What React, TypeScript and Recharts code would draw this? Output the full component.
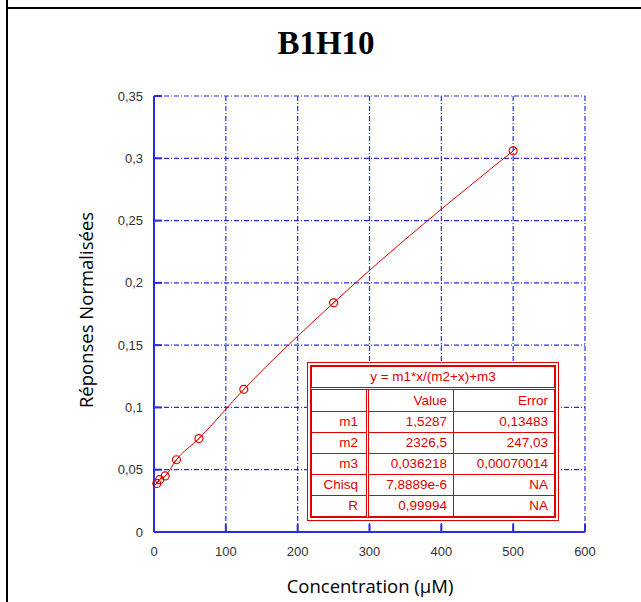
import { ComposedChart, Line, Scatter, XAxis, YAxis, CartesianGrid } from "recharts";

// concentrations (µM) and normalised responses
const CONC = [3.9, 7.8, 15.6, 31.25, 62.5, 125, 250, 500];
const RESP = [0.039, 0.042, 0.045, 0.058, 0.075, 0.1145, 0.184, 0.306];

const X_TICKS = [0, 100, 200, 300, 400, 500, 600];
const Y_TICKS = [0, 0.05, 0.1, 0.15, 0.2, 0.25, 0.3, 0.35];

// fit result box
const FIT_EQUATION = "y = m1*x/(m2+x)+m3";
const FIT_PARAMS = ["m1", "m2", "m3", "Chisq", "R"];
const FIT_VALUES = ["1,5287", "2326,5", "0,036218", "7,8889e-6", "0,99994"];
const FIT_ERRORS = ["0,13483", "247,03", "0,00070014", "NA", "NA"];

const BLUE = "#2c2ce6";
const RED = "#e00000";

const data = CONC.map((x, i) => ({ x, y: RESP[i] }));

const fmt = (v: number) => String(v).replace(".", ",");

const Marker = (props: any) => {
  const { cx, cy } = props;
  if (cx == null || cy == null) return null;
  return (
    <g>
      <circle cx={cx} cy={cy} r={4} fill="none" stroke={RED} strokeWidth={1.2} />
      <line x1={cx - 2.8} y1={cy + 2.8} x2={cx + 2.8} y2={cy - 2.8} stroke={RED} strokeWidth={1} />
    </g>
  );
};

const tickStyle = { fill: "#333", fontSize: 13, fontFamily: "Liberation Sans, Arial, sans-serif" };

function FitTable() {
  const cell = {
    border: `1px solid ${RED}`,
    padding: "0 6px 0 0",
    textAlign: "right" as const,
  };
  const first = { ...cell, paddingRight: 8, borderRight: `3px double ${RED}` };
  return (
    <div
      style={{
        position: "absolute",
        left: 307,
        top: 362,
        width: 252,
        height: 159,
        boxSizing: "border-box",
        border: `4px double ${RED}`,
        background: "#fff",
        overflow: "hidden",
      }}
    >
      <table
        style={{
          width: "100%",
          height: "100%",
          borderCollapse: "collapse",
          tableLayout: "fixed",
          color: RED,
          fontFamily: "Liberation Sans, Arial, sans-serif",
          fontSize: 13.5,
          lineHeight: 1,
        }}
      >
        <colgroup>
          <col style={{ width: 56 }} />
          <col style={{ width: 86 }} />
          <col />
        </colgroup>
        <tbody>
          <tr>
            <td colSpan={3} style={{ ...cell, textAlign: "center", padding: 0, borderBottom: `3px double ${RED}` }}>
              {FIT_EQUATION}
            </td>
          </tr>
          <tr>
            <td style={first}></td>
            <td style={cell}>Value</td>
            <td style={cell}>Error</td>
          </tr>
          {FIT_PARAMS.map((p, i) => (
            <tr key={p}>
              <td style={first}>{p}</td>
              <td style={cell}>{FIT_VALUES[i]}</td>
              <td style={cell}>{FIT_ERRORS[i]}</td>
            </tr>
          ))}
        </tbody>
      </table>
    </div>
  );
}

export default function App() {
  return (
    <div style={{ position: "absolute", left: 0, top: 0, width: 641, height: 602, background: "#fff", overflow: "hidden" }}>
      {/* page frame */}
      <div style={{ position: "absolute", left: 6, top: 0, width: 2, height: 602, background: "#000" }} />
      <div style={{ position: "absolute", left: 7, top: 7, width: 634, height: 2, background: "#000" }} />

      <div
        style={{
          position: "absolute",
          left: 0,
          top: 27,
          width: 652,
          textAlign: "center",
          fontFamily: "Liberation Serif, Times New Roman, serif",
          fontWeight: "bold",
          fontSize: 33,
          lineHeight: "33px",
          color: "#000",
        }}
      >
        B1H10
      </div>

      <div style={{ position: "absolute", left: 0, top: 0 }}>
        <ComposedChart width={641} height={602} data={data} margin={{ top: 96, right: 56, bottom: 40, left: 94 }}>
          <CartesianGrid stroke={BLUE} strokeDasharray="5 2 1 2" strokeWidth={1.2} />
          <XAxis
            type="number"
            dataKey="x"
            domain={[0, 600]}
            ticks={X_TICKS}
            height={30}
            axisLine={{ stroke: BLUE, strokeWidth: 2 }}
            tickLine={{ stroke: BLUE, strokeWidth: 2 }}
            tickSize={-8}
            tickMargin={23}
            tick={tickStyle}
          />
          <XAxis
            xAxisId="top"
            orientation="top"
            type="number"
            domain={[0, 600]}
            ticks={X_TICKS}
            height={0}
            axisLine={{ stroke: BLUE, strokeWidth: 2 }}
            tickLine={{ stroke: BLUE, strokeWidth: 2 }}
            tickSize={-8}
            tick={false}
          />
          <YAxis
            type="number"
            domain={[0, 0.35]}
            ticks={Y_TICKS}
            width={60}
            axisLine={{ stroke: BLUE, strokeWidth: 2 }}
            tickLine={{ stroke: BLUE, strokeWidth: 2 }}
            tickSize={-8}
            tickMargin={19}
            tick={tickStyle}
            tickFormatter={fmt}
          />
          <YAxis
            yAxisId="right"
            orientation="right"
            type="number"
            domain={[0, 0.35]}
            ticks={Y_TICKS}
            width={0}
            axisLine={{ stroke: BLUE, strokeWidth: 2 }}
            tickLine={{ stroke: BLUE, strokeWidth: 2 }}
            tickSize={-8}
            tick={false}
          />
          <Line
            type="monotone"
            dataKey="y"
            stroke={RED}
            strokeWidth={1}
            dot={false}
            isAnimationActive={false}
          />
          <Scatter data={data} dataKey="y" shape={Marker} isAnimationActive={false} />
        </ComposedChart>
      </div>

      <FitTable />

      <div
        style={{
          position: "absolute",
          left: 86,
          top: 310,
          transform: "translate(-50%, -50%) rotate(-90deg)",
          whiteSpace: "nowrap",
          fontFamily: "Open Sans, sans-serif",
          fontSize: 18.5,
          lineHeight: 1,
          color: "#000",
        }}
      >
        Réponses Normalisées
      </div>
      <div
        style={{
          position: "absolute",
          left: 370,
          top: 586,
          transform: "translate(-50%, -50%)",
          whiteSpace: "nowrap",
          fontFamily: "Open Sans, sans-serif",
          fontSize: 18.5,
          lineHeight: 1,
          color: "#000",
        }}
      >
        Concentration (µM)
      </div>
    </div>
  );
}
